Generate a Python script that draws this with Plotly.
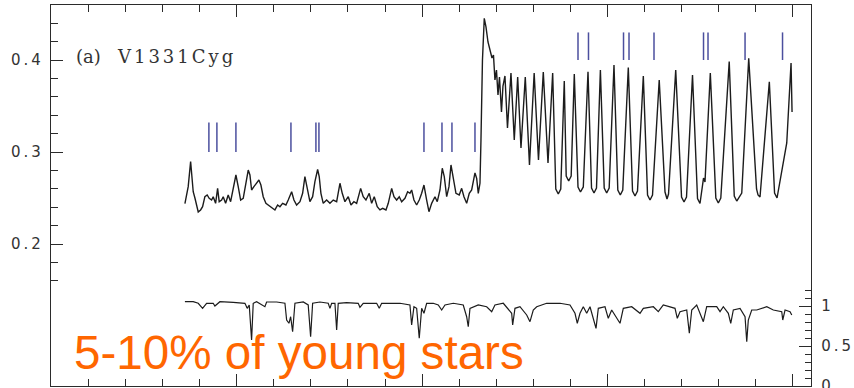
import plotly.graph_objects as go

# V1331 Cyg K-band spectrum around the CO 2-0 bandhead (wavelength in Angstrom)
upper_wavelength = [
    22836.02, 22836.56, 22836.91, 22837.56, 22837.91, 22838.26, 22838.72, 22839.61, 22840.25, 22840.79,
    22841.41, 22842.03, 22842.57, 22843.22, 22843.65, 22844.30, 22844.84, 22845.27, 22845.92, 22846.35,
    22847.00, 22847.70, 22848.35, 22849.05, 22849.78, 22850.40, 22851.05, 22851.75, 22852.48, 22853.10,
    22853.56, 22854.01, 22854.63, 22855.36, 22855.98, 22856.52, 22857.14, 22857.87, 22858.49, 22859.41,
    22860.30, 22861.03, 22861.65, 22862.38, 22863.27, 22863.89, 22864.81, 22865.43, 22866.15, 22867.05,
    22867.77, 22868.39, 22869.01, 22869.74, 22870.47, 22871.09, 22871.82, 22872.25, 22872.71, 22873.33,
    22874.25, 22875.14, 22876.03, 22876.95, 22877.84, 22878.46, 22879.19, 22880.08, 22880.81, 22881.61,
    22882.34, 22883.42, 22884.12, 22884.85, 22885.74, 22886.39, 22887.09, 22887.90, 22888.63, 22889.36,
    22890.25, 22890.87, 22891.79, 22892.41, 22893.13, 22893.84, 22894.48, 22895.37, 22896.10, 22896.72,
    22897.18, 22897.80, 22898.53, 22899.23, 22899.88, 22900.50, 22901.23, 22901.85, 22902.58, 22903.47,
    22904.09, 22904.82, 22905.44, 22905.98, 22906.63, 22907.25, 22907.79, 22908.41, 22909.13, 22910.02,
    22910.67, 22911.29, 22912.02, 22912.72, 22913.37, 22914.26, 22914.72, 22915.15, 22915.61, 22915.88,
    22916.28, 22916.77, 22917.23, 22917.77, 22918.31, 22918.85, 22919.25, 22919.65, 22920.06, 22920.47,
    22920.87, 22921.41, 22921.81, 22922.35, 22923.03, 22923.97, 22924.86, 22925.78, 22926.67, 22927.83,
    22928.96, 22930.23, 22931.39, 22932.69, 22933.96, 22935.22, 22936.06, 22936.73, 22937.40, 22938.35,
    22938.87, 22939.54, 22940.21, 22941.05, 22942.05, 22942.72, 22943.48, 22944.75, 22945.70, 22946.37,
    22947.04, 22948.09, 22949.12, 22949.79, 22950.46, 22951.76, 22952.79, 22953.46, 22954.13, 22955.62,
    22956.76, 22957.43, 22958.10, 22959.67, 22960.81, 22961.48, 22962.15, 22963.96, 22965.52, 22966.06,
    22966.47, 22968.41, 22969.98, 22970.65, 22971.32, 22972.94, 22974.29, 22974.96, 22975.91, 22976.31,
    22977.74, 22979.23, 22979.90, 22980.57, 22982.84, 22984.20, 22984.87, 22986.22, 22988.10, 22990.21,
    22990.61, 22991.15, 22993.66, 22995.07, 22995.74, 22996.82, 22997.44, 22998.36, 22999.52, 22999.79,
]
upper_flux = [
    0.2440, 0.2533, 0.2623, 0.2897, 0.2696, 0.2568, 0.2500, 0.2348, 0.2370, 0.2405,
    0.2514, 0.2533, 0.2497, 0.2478, 0.2514, 0.2442, 0.2605, 0.2460, 0.2478, 0.2514,
    0.2442, 0.2533, 0.2460, 0.2587, 0.2750, 0.2623, 0.2478, 0.2497, 0.2660, 0.2804,
    0.2750, 0.2587, 0.2623, 0.2660, 0.2696, 0.2641, 0.2514, 0.2442, 0.2424, 0.2405,
    0.2370, 0.2424, 0.2405, 0.2442, 0.2424, 0.2478, 0.2568, 0.2478, 0.2424, 0.2460,
    0.2551, 0.2732, 0.2587, 0.2460, 0.2514, 0.2677, 0.2810, 0.2732, 0.2551, 0.2442,
    0.2478, 0.2442, 0.2478, 0.2460, 0.2660, 0.2551, 0.2460, 0.2514, 0.2424, 0.2460,
    0.2442, 0.2605, 0.2514, 0.2478, 0.2551, 0.2442, 0.2514, 0.2405, 0.2370, 0.2388,
    0.2370, 0.2442, 0.2605, 0.2514, 0.2478, 0.2514, 0.2460, 0.2497, 0.2568, 0.2551,
    0.2587, 0.2478, 0.2424, 0.2478, 0.2551, 0.2641, 0.2478, 0.2351, 0.2442, 0.2514,
    0.2460, 0.2587, 0.2823, 0.2732, 0.2514, 0.2623, 0.2859, 0.2696, 0.2551, 0.2533,
    0.2605, 0.2514, 0.2442, 0.2551, 0.2587, 0.2772, 0.2714, 0.2551, 0.2660, 0.3130,
    0.4000, 0.4453, 0.4359, 0.4196, 0.4109, 0.4022, 0.4054, 0.3783, 0.3891, 0.3620,
    0.3815, 0.3435, 0.3717, 0.3826, 0.3261, 0.3859, 0.3130, 0.3815, 0.3043, 0.3815,
    0.2859, 0.3859, 0.2913, 0.3870, 0.2880, 0.3859, 0.2597, 0.2543, 0.2597, 0.3772,
    0.2739, 0.2685, 0.2739, 0.3848, 0.2619, 0.2565, 0.2620, 0.3873, 0.2608, 0.2554,
    0.2608, 0.3891, 0.2608, 0.2554, 0.2608, 0.3946, 0.2587, 0.2533, 0.2587, 0.3918,
    0.2576, 0.2522, 0.2576, 0.3826, 0.2532, 0.2478, 0.2532, 0.3783, 0.2565, 0.2489,
    0.2543, 0.3891, 0.2511, 0.2457, 0.2511, 0.3837, 0.2494, 0.2440, 0.2717, 0.2674,
    0.3859, 0.2500, 0.2446, 0.2500, 0.3982, 0.2521, 0.2467, 0.2554, 0.4018, 0.2598,
    0.2533, 0.2511, 0.3764, 0.2554, 0.2500, 0.2750, 0.2891, 0.3098, 0.3967, 0.3435,
]

# Comparison star, normalised flux (right-hand scale)
lower_wavelength = [
    22836.02, 22838.26, 22839.61, 22840.79, 22841.87, 22843.65, 22844.11, 22845.46, 22849.05, 22852.21,
    22852.83, 22853.37, 22854.01, 22854.45, 22855.36, 22857.60, 22858.06, 22860.76, 22863.00, 22863.46,
    22864.08, 22864.54, 22865.07, 22865.70, 22867.94, 22869.28, 22869.93, 22870.47, 22872.44, 22874.68,
    22875.14, 22875.60, 22876.49, 22876.95, 22877.38, 22879.64, 22882.77, 22883.23, 22884.12, 22887.74,
    22888.44, 22889.09, 22894.03, 22896.72, 22897.18, 22897.80, 22898.53, 22899.23, 22899.88, 22900.50,
    22901.23, 22903.01, 22904.36, 22905.28, 22906.17, 22908.41, 22911.10, 22912.02, 22912.45, 22912.91,
    22915.15, 22917.42, 22918.77, 22919.65, 22921.90, 22924.16, 22924.43, 22925.05, 22926.40, 22928.21,
    22929.10, 22929.99, 22930.91, 22933.60, 22937.19, 22939.89, 22941.24, 22941.86, 22942.59, 22943.48,
    22944.40, 22945.29, 22946.91, 22947.53, 22949.33, 22950.22, 22951.14, 22953.38, 22954.27, 22956.54,
    22958.78, 22959.67, 22962.37, 22963.71, 22965.06, 22968.22, 22968.84, 22969.57, 22971.38, 22972.08,
    22972.73, 22974.07, 22975.86, 22976.77, 22979.47, 22980.36, 22981.25, 22982.60, 22983.25, 22983.95,
    22985.76, 22987.11, 22987.57, 22987.99, 22988.91, 22990.26, 22992.96, 22994.74, 22997.01, 22997.28,
    22997.90, 22999.25, 22999.71,
]
lower_flux = [
    1.054, 1.054, 1.034, 0.971, 1.034, 1.034, 1.000, 1.054, 1.046, 1.034,
    0.971, 1.013, 0.575, 1.034, 1.054, 0.991, 1.050, 1.050, 1.034, 0.825,
    0.784, 0.866, 0.679, 1.034, 1.050, 1.013, 0.616, 1.034, 1.050, 1.034,
    0.971, 1.034, 1.034, 0.700, 1.034, 1.041, 1.034, 0.984, 1.034, 1.034,
    0.971, 1.034, 1.034, 1.013, 0.763, 0.991, 0.971, 0.596, 0.971, 0.909,
    1.034, 1.034, 1.013, 0.950, 1.013, 1.034, 1.013, 0.866, 0.741, 0.971,
    1.013, 0.991, 0.929, 1.013, 1.034, 0.909, 0.763, 0.971, 0.991, 0.888,
    0.804, 0.950, 0.991, 1.034, 1.034, 1.013, 0.909, 0.784, 0.909, 0.991,
    0.909, 0.991, 0.721, 0.971, 0.991, 0.846, 0.950, 0.784, 0.971, 0.991,
    0.909, 0.971, 0.991, 0.929, 1.013, 0.971, 0.846, 0.929, 0.950, 0.659,
    0.950, 1.013, 0.804, 0.991, 0.991, 0.929, 0.991, 0.909, 0.784, 0.950,
    0.971, 0.866, 0.554, 0.825, 0.950, 0.950, 0.991, 0.950, 0.929, 0.825,
    0.950, 0.929, 0.888,
]

# Line identifications: two rows of tick marks
ids_row1 = [22842.49, 22844.65, 22849.78, 22864.62, 22871.36, 22872.17,
            22900.50, 22905.36, 22908.05, 22914.26]
ids_row1_span = (0.300, 0.332)
ids_row2 = [22942.05, 22944.88, 22954.33, 22955.81, 22962.55,
            22975.91, 22977.12, 22987.11, 22997.22]
ids_row2_span = (0.400, 0.430)

left_ticks = [0.2, 0.3, 0.4]
left_minor = [0.16, 0.18, 0.22, 0.24, 0.26, 0.28, 0.32, 0.34, 0.36, 0.38, 0.42, 0.44, 0.46]
right_ticks = [0, 0.5, 1]
right_minor = [0.1, 0.2, 0.3, 0.4, 0.6, 0.7, 0.8, 0.9, 1.1, 1.2]

INK = "#2b2b2b"
ID_BLUE = "#4b4f9e"


def spaced(s, px):
    return f'<span style="letter-spacing:{px}px">{s}</span>'


def id_segments(xs, span):
    sx, sy = [], []
    for v in xs:
        sx += [v, v, None]
        sy += [span[0], span[1], None]
    return sx, sy


fig = go.Figure()

fig.add_trace(go.Scatter(
    x=upper_wavelength, y=upper_flux, mode="lines",
    line=dict(color="#1c1c1c", width=1.4), hoverinfo="skip", showlegend=False,
))
fig.add_trace(go.Scatter(
    x=lower_wavelength, y=lower_flux, mode="lines", yaxis="y2",
    line=dict(color="#1c1c1c", width=1.2), hoverinfo="skip", showlegend=False,
))
for row, span in ((ids_row1, ids_row1_span), (ids_row2, ids_row2_span)):
    sx, sy = id_segments(row, span)
    fig.add_trace(go.Scatter(
        x=sx, y=sy, mode="lines", line=dict(color=ID_BLUE, width=1.5),
        hoverinfo="skip", showlegend=False,
    ))

tick_font = dict(family="DejaVu Sans", size=15, color="#333333")

fig.update_layout(
    width=854, height=388,
    margin=dict(l=51, r=43, t=5, b=2, autoexpand=False),
    paper_bgcolor="white", plot_bgcolor="white",
    xaxis=dict(
        range=[22799.9, 23004.9], automargin=False,
        showline=True, linecolor=INK, linewidth=1.3, mirror="ticks",
        ticks="inside", ticklen=12, tickwidth=1.2, tickcolor=INK,
        tick0=22800, dtick=50, showticklabels=False,
        minor=dict(tick0=22800, dtick=10, ticks="inside", ticklen=7,
                   tickwidth=1.2, tickcolor=INK, showgrid=False),
        showgrid=False, zeroline=False,
    ),
    yaxis=dict(
        range=[0.04565, 0.45978], automargin=False,
        showline=True, linecolor=INK, linewidth=1.3,
        ticks="inside", ticklen=12, tickwidth=1.2, tickcolor=INK,
        tickmode="array", tickvals=left_ticks,
        ticktext=[spaced(f"{v:.1f}", 3) for v in left_ticks],
        tickfont=tick_font, ticklabelstandoff=3,
        minor=dict(tickmode="array", tickvals=left_minor, ticks="inside",
                   ticklen=7, tickwidth=1.2, tickcolor=INK, showgrid=False),
        showgrid=False, zeroline=False,
    ),
    yaxis2=dict(
        range=[0, 4.7625], overlaying="y", side="right", anchor="x",
        automargin=False,
        showline=True, linecolor=INK, linewidth=1.3,
        ticks="inside", ticklen=12, tickwidth=1.2, tickcolor=INK,
        tickmode="array", tickvals=right_ticks,
        ticktext=[spaced(f"{v:g}", 3) for v in right_ticks],
        tickfont=tick_font, ticklabelstandoff=6, ticklabeloverflow="allow",
        minor=dict(tickmode="array", tickvals=right_minor, ticks="inside",
                   ticklen=6, tickwidth=1.2, tickcolor=INK, showgrid=False),
        showgrid=False, zeroline=False,
    ),
    annotations=[
        dict(
            text="(a)&nbsp;&nbsp;&nbsp;" + spaced("V1331Cyg", 3),
            xref="paper", yref="paper", x=0.03, y=0.866,
            xanchor="left", yanchor="middle", showarrow=False,
            font=dict(family="DejaVu Serif", size=18, color="#333333"),
        ),
        dict(
            text="5-10% of young stars",
            xref="paper", yref="paper", x=0.027, y=0.0875,
            xanchor="left", yanchor="middle", showarrow=False,
            font=dict(family="Liberation Sans, Arial", size=47.6, color="#ff6600"),
        ),
    ],
)

fig.write_html("out.html", config={"displayModeBar": False})
